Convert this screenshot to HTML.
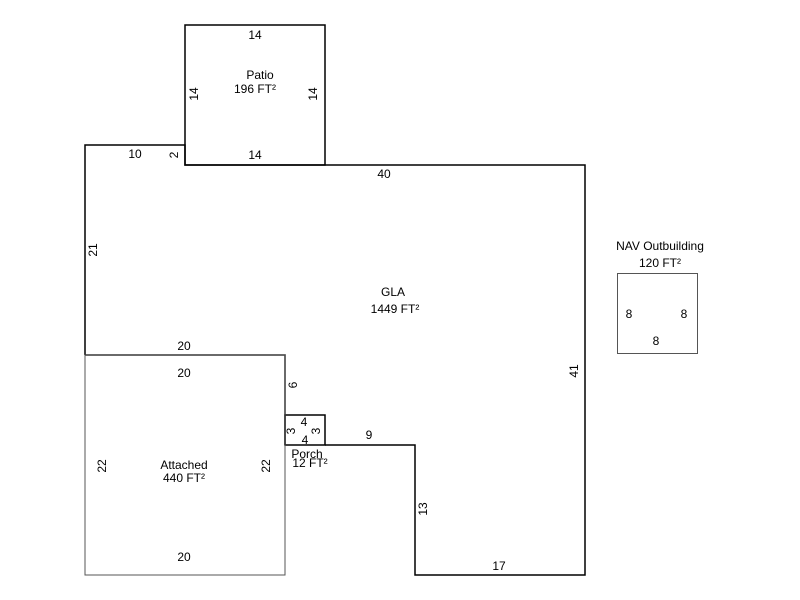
<!DOCTYPE html>
<html><head><style>html,body{margin:0;padding:0;background:#fff}svg{display:block}</style></head><body>
<svg width="800" height="600" xmlns="http://www.w3.org/2000/svg" font-family="Liberation Sans, Arial, sans-serif" font-size="12" fill="#000">
<g fill="none" stroke="#000" stroke-width="1.5">
<rect x="185" y="25" width="140" height="140"/>
<polyline points="85,355 85,145 185,145 185,165 585,165 585,575 415,575 415,445 325,445"/>
<polyline points="85,355 285,355 285,445"/>
<rect x="285" y="415" width="40" height="30"/>
</g>
<g fill="none" stroke="#555" stroke-width="1">
<rect x="85" y="355" width="200" height="220"/>
<rect x="617.5" y="273.5" width="80" height="80"/>
</g>
<g text-anchor="middle">
<text x="255" y="39">14</text>
<text x="260" y="79">Patio</text>
<text x="255" y="93">196 FT²</text>
<text x="255" y="159">14</text>
<text x="135" y="158">10</text>
<text x="384" y="178">40</text>
<text x="393" y="296">GLA</text>
<text x="395" y="313">1449 FT²</text>
<text x="184" y="350">20</text>
<text x="184" y="377">20</text>
<text x="184" y="469">Attached</text>
<text x="184" y="482">440 FT²</text>
<text x="184" y="561">20</text>
<text x="304" y="426">4</text>
<text x="305" y="444">4</text>
<text x="307" y="458">Porch</text>
<text x="310" y="467">12 FT²</text>
<text x="369" y="439">9</text>
<text x="499" y="570">17</text>
<text x="660" y="250">NAV Outbuilding</text>
<text x="660" y="267">120 FT²</text>
<text x="629" y="318">8</text>
<text x="684" y="318">8</text>
<text x="656" y="345">8</text>
</g>
<g text-anchor="middle">
<text transform="translate(198,94) rotate(-90)">14</text>
<text transform="translate(317,94) rotate(-90)">14</text>
<text transform="translate(178,155) rotate(-90)">2</text>
<text transform="translate(97,250) rotate(-90)">21</text>
<text transform="translate(297,385) rotate(-90)">6</text>
<text transform="translate(295,431) rotate(-90)">3</text>
<text transform="translate(320,431) rotate(-90)">3</text>
<text transform="translate(106,466) rotate(-90)">22</text>
<text transform="translate(270,466) rotate(-90)">22</text>
<text transform="translate(427,509) rotate(-90)">13</text>
<text transform="translate(578,371) rotate(-90)">41</text>
</g>
</svg>
</body></html>
